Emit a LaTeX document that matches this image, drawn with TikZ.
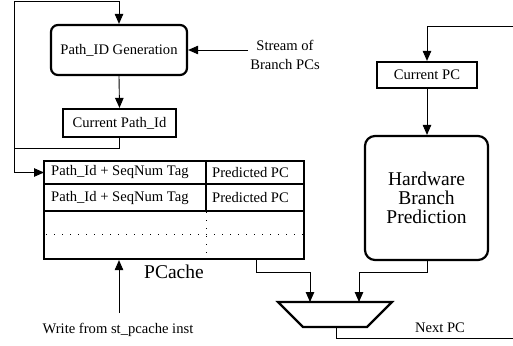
\documentclass[tikz,border=0pt]{standalone}
\usepackage{fontspec}
\setmainfont{Liberation Serif}
\newfontfamily\timesfont{Liberation Serif}
\usetikzlibrary{arrows.meta,calc}
\begin{document}
\begin{tikzpicture}[x=1pt,y=-1pt,
  small/.style={font=\timesfont\fontsize{14.6}{19}\selectfont},
  big/.style={font=\timesfont\fontsize{19.5}{19}\selectfont},
  thickbox/.style={draw,line width=2.2pt,inner sep=0pt},
  conn/.style={line width=0.9pt},
  arr/.style={conn,-{Triangle[length=10pt,width=8.5pt]}},
  dots/.style={line width=1pt,dash pattern=on 1pt off 7pt}
]
\useasboundingbox (0,0) rectangle (513,345);
% left part
\node[thickbox,rounded corners=7pt,minimum width=136pt,minimum height=50pt,small] (pidgen) at (119,50) {Path\_ID Generation};
\node[thickbox,minimum width=113pt,minimum height=28pt,small] (curpid) at (119.5,123) {Current Path\_Id};
\node[small,align=center,inner sep=0pt] (stream) at (285,54.5) {Stream of\\Branch PCs};
\coordinate (streamstart) at (248,50);
\coordinate (lj) at (14,148);
\coordinate (lt) at (14,1);
% PCache table
\node[thickbox,minimum width=260pt,minimum height=98pt] (pcache) at (174,210) {};
\draw[line width=2.2pt] (44,184) -- (304,184) (44,211) -- (304,211) (206,161) -- (206,211);
\draw[dots] (46,234) -- (304,234);
\draw[dots] (206,212) -- (206,259);
\node[small,anchor=west,inner sep=0pt] (tag1) at (51,172.5) {Path\_Id + SeqNum Tag};
\node[small,anchor=west,inner sep=0pt] (pc1) at (212,172.5) {Predicted PC};
\node[small,anchor=west,inner sep=0pt] (tag2) at (51,198) {Path\_Id + SeqNum Tag};
\node[small,anchor=west,inner sep=0pt] (pc2) at (212,198) {Predicted PC};
\coordinate (row1w) at (44,172.5);
\node[big,inner sep=0pt] (pclabel) at (174,271.5) {PCache};
\node[small,inner sep=0pt] (write) at (118,330) {Write from st\_pcache inst};
\coordinate (wstart) at (119,313);
% right part
\node[thickbox,minimum width=100pt,minimum height=26pt,small] (curpc) at (427,75) {Current PC};
\node[thickbox,rounded corners=10pt,minimum width=123pt,minimum height=124pt,big,align=center] (hbp) at (426.5,198) {Hardware\\Branch\\Prediction};
\coordinate (rtop) at (513,26);
% mux
\coordinate (m1) at (278,302);
\coordinate (m2) at (392,302);
\coordinate (m3) at (367,327);
\coordinate (m4) at (303,327);
\draw[line width=2.2pt,line join=miter] (m1) -- (m2) -- (m3) -- (m4) -- cycle;
\coordinate (muxinA) at (310,302);
\coordinate (muxinB) at (359,302);
\coordinate (muxout) at (336,327);
\coordinate (nextend) at (513,338);
\node[small,inner sep=0pt] (nextpc) at (440,328) {Next PC};
% connectors
\draw[arr] (pidgen.south) -- (curpid.north);
\draw[conn] (curpid.south) |- (lj);
\draw[arr] (lj) |- (lt) -| (pidgen.north);
\draw[arr] (lj) |- (row1w);
\draw[arr] (streamstart) -- (pidgen.east);
\draw[arr] (wstart) -- (wstart |- pcache.south);
\draw[arr] (rtop) -| (curpc.north);
\draw[arr] (curpc.south) -- (hbp.north -| curpc.south);
\draw[arr] ([xshift=-49pt]pcache.south east) -- ++(0,12) -| (muxinA);
\draw[arr] ([xshift=0.5pt]hbp.south) -- ++(0,11) -| (muxinB);
\draw[conn] (muxout) -- ++(0,11) -- (nextend);
\end{tikzpicture}
\end{document}
